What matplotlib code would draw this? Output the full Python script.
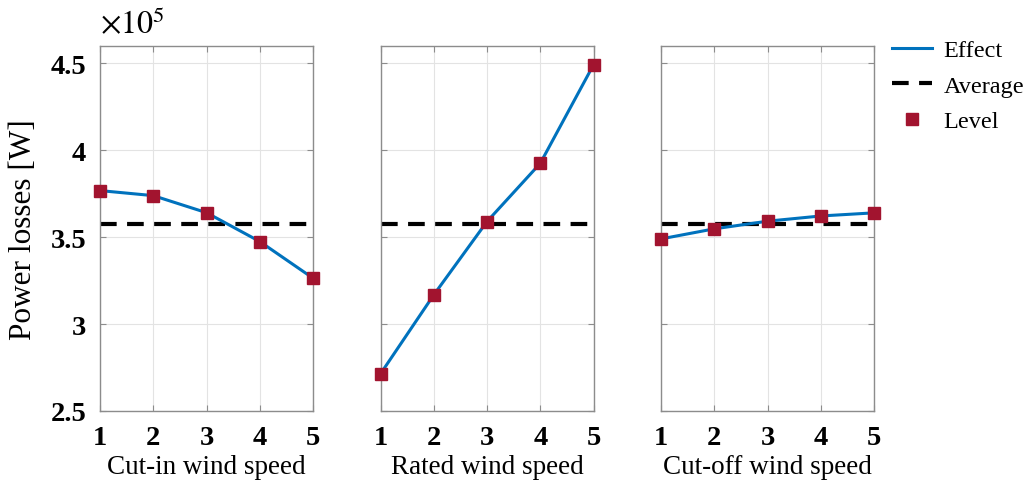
import matplotlib
matplotlib.use("Agg")
import matplotlib.pyplot as plt
from matplotlib.ticker import FuncFormatter

plt.rcParams["font.family"] = ["Liberation Serif", "DejaVu Serif"]
plt.rcParams["mathtext.fontset"] = "stix"

# Datos (perdidas de potencia en W)
niveles = [1, 2, 3, 4, 5]
factores = ["Cut-in wind speed", "Rated wind speed", "Cut-off wind speed"]
perdidas_cutin = [376800, 373900, 364100, 347500, 326400]
perdidas_rated = [271400, 316800, 359000, 392500, 449200]
perdidas_cutoff = [349000, 354800, 359200, 362200, 364000]
promedio = 357800

series = [perdidas_cutin, perdidas_rated, perdidas_cutoff]

azul = "#0072BD"
rojo = "#A2142F"
gris = "#8c8c8c"

fig = plt.figure(figsize=(10.29, 4.81), dpi=100)
izq = [0.0972, 0.3698, 0.6424]
ejes = []
for i, (nombre, valores) in enumerate(zip(factores, series)):
    ax = fig.add_axes([izq[i], 0.1435, 0.207, 0.7588])
    ejes.append(ax)
    ax.plot(niveles, valores, color=azul, lw=2.2, label="Effect", zorder=3,
            clip_on=False)
    ax.plot([niveles[0], niveles[-1]], [promedio, promedio], color="black",
            lw=3, linestyle=(0, (4, 2.5)), label="Average", zorder=2)
    ax.plot(niveles, valores, linestyle="none", marker="s", markersize=9,
            color=rojo, label="Level", zorder=4, clip_on=False)
    ax.set_xlim(1, 5)
    ax.set_ylim(250000, 460000)
    ax.set_xticks(niveles)
    ax.set_yticks([250000, 300000, 350000, 400000, 450000])
    ax.grid(True, color="#e3e3e3", lw=0.8)
    ax.set_axisbelow(True)
    for s in ax.spines.values():
        s.set_color(gris)
        s.set_linewidth(1)
    ax.tick_params(direction="in", length=4, color=gris, top=True, right=True,
                   labelsize=20.5, pad=10)
    for t in ax.get_xticklabels():
        t.set_fontweight("bold")
    ax.set_xlabel(nombre, fontsize=19.5, labelpad=3)
    if i == 0:
        ax.yaxis.set_major_formatter(FuncFormatter(lambda v, p: f"{v/1e5:g}"))
        for t in ax.get_yticklabels():
            t.set_fontweight("bold")
        ax.set_ylabel("Power losses [W]", fontsize=22.5, labelpad=9)
        ax.text(0.0, 1.02, r"$\times10^{5}$", transform=ax.transAxes,
                fontsize=23, ha="left", va="bottom")
    else:
        ax.set_yticklabels([])

ejes[2].legend(loc="upper left", bbox_to_anchor=(1.04, 1.045), frameon=False,
               fontsize=17.5, handlelength=1.65, handletextpad=0.45,
               labelspacing=0.55, borderaxespad=0)

plt.savefig("out.png", dpi=100)
